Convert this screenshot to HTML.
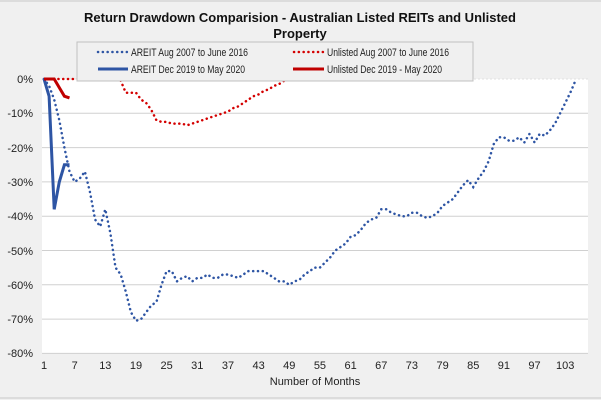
<!DOCTYPE html>
<html><head><meta charset="utf-8"><style>
body{margin:0;background:#f0f0f0;}
svg{display:block;font-family:"Liberation Sans Narrow","Liberation Sans",sans-serif;}
</style></head><body>
<svg width="601" height="400" viewBox="0 0 601 400" xmlns="http://www.w3.org/2000/svg">
<rect x="0" y="0" width="601" height="400" fill="#f0f0f0"/>
<line x1="0" y1="1" x2="601" y2="1" stroke="#c8c8c8"/>
<line x1="0" y1="398" x2="601" y2="398" stroke="#c8c8c8"/>
<rect x="42" y="79" width="546" height="274" fill="#ffffff"/>
<g stroke="#d0d0d0" stroke-width="1">
<line x1="42" y1="113.3" x2="588" y2="113.3"/><line x1="42" y1="147.6" x2="588" y2="147.6"/>
<line x1="42" y1="181.9" x2="588" y2="181.9"/><line x1="42" y1="216.2" x2="588" y2="216.2"/>
<line x1="42" y1="250.5" x2="588" y2="250.5"/><line x1="42" y1="284.8" x2="588" y2="284.8"/>
<line x1="42" y1="319.1" x2="588" y2="319.1"/><line x1="42" y1="353.4" x2="588" y2="353.4"/>
</g>
<line x1="42" y1="79" x2="588" y2="79" stroke="#e0e0e0" stroke-dasharray="2,2"/>
<g font-size="11" fill="#222" text-anchor="end">
<text x="33" y="83">0%</text><text x="33" y="117">-10%</text><text x="33" y="152">-20%</text>
<text x="33" y="186">-30%</text><text x="33" y="220">-40%</text><text x="33" y="255">-50%</text>
<text x="33" y="289">-60%</text><text x="33" y="323">-70%</text><text x="33" y="357">-80%</text>
</g>
<g font-size="11" fill="#222" text-anchor="middle" id="xl"></g>
<text x="315" y="385" font-size="11" text-anchor="middle" fill="#222">Number of Months</text>
<g id="series"></g>
<text x="300" y="22" font-size="13" font-weight="bold" text-anchor="middle" fill="#111" font-family="Liberation Sans, sans-serif">Return Drawdown Comparision - Australian Listed REITs and Unlisted</text>
<text x="300" y="38" font-size="13" font-weight="bold" text-anchor="middle" fill="#111" font-family="Liberation Sans, sans-serif">Property</text>
<rect x="77" y="42" width="396" height="39" fill="#f0f0f0" stroke="#c0c0c0"/>
<g font-size="11" fill="#222">
<line x1="98" y1="52" x2="127" y2="52" stroke="#2e55a4" stroke-width="2.5" stroke-linecap="round" stroke-dasharray="0.1,4.7"/>
<text x="131" y="56" textLength="117" lengthAdjust="spacingAndGlyphs">AREIT Aug 2007 to June 2016</text>
<line x1="98" y1="69" x2="128" y2="69" stroke="#2e55a4" stroke-width="3"/>
<text x="131" y="73" textLength="114" lengthAdjust="spacingAndGlyphs">AREIT Dec 2019 to May 2020</text>
<line x1="294" y1="52" x2="323" y2="52" stroke="#d40000" stroke-width="2.5" stroke-linecap="round" stroke-dasharray="0.1,4.7"/>
<text x="327" y="56" textLength="122" lengthAdjust="spacingAndGlyphs">Unlisted Aug 2007 to June 2016</text>
<line x1="293" y1="69" x2="324" y2="69" stroke="#c00000" stroke-width="3"/>
<text x="327" y="73" textLength="115" lengthAdjust="spacingAndGlyphs">Unlisted Dec 2019 - May 2020</text>
</g>
</svg>
<script>
var X=m=>44+(m-1)*5.11, Y=v=>79-v*3.43;
var xl=document.getElementById('xl'),s='';
for(var m=1;m<=103;m+=6)s+='<text x="'+X(m)+'" y="369">'+m+'</text>';
xl.innerHTML=s;
var areit=[0,-2,-6,-12,-20,-27,-30,-29,-27,-33,-41,-43,-38,-45,-55,-57,-62,-68,-70.5,-70,-68,-66,-65,-60,-56,-56,-59,-58,-57.5,-59,-58,-58,-57,-58,-58,-57,-57,-57.5,-58,-57,-56,-56,-56,-56,-57,-58,-59,-59,-60,-59,-58.5,-57,-56,-55,-55,-53.5,-52,-50,-49,-48,-46,-45.5,-44,-42,-41,-40.5,-38,-38,-39,-39.5,-40,-40,-39,-39,-40,-40.5,-40,-39,-37,-36,-35,-33,-31,-29.5,-30.5,-31.5,-29,-28,-27,-24,-20,-17,-17,-18,-18.5,-18,-17,-18.5,-16,-18.5,-18.5,-16,-16.5,-17,-15,-13,-10,-7,-4,-1,0.5];
var cut=areit.indexOf(-29.5);
areit=areit.slice(0,cut+1).concat([-31.5,-29,-27,-24,-19,-17,-17,-18,-18,-17,-18.5,-16,-18.5,-16,-16.5,-15,-13,-10,-7,-4,-0.5]);
var unl=[];for(var i=0;i<15;i++)unl.push(0);
unl=unl.concat([-0.5,-4,-4,-4,-6,-7,-9,-12,-12.5,-12.5,-13,-13,-13,-13.5,-13,-12.5,-12,-11.5,-11,-10.5,-10,-9.5,-8.5,-8,-7,-6,-5,-4.5,-3.5,-3,-2,-1.5,-0.5,0]);
function pts(a,sc){sc=sc||5.11;return a.map((v,i)=>(44+i*sc).toFixed(1)+','+Y(v).toFixed(1)).join(' ');}
var sA=Math.min(5.11,(581-44)/(areit.length-1));
document.getElementById('series').innerHTML=
'<polyline points="'+pts(unl)+'" fill="none" stroke="#d40000" stroke-width="2.5" stroke-linecap="round" stroke-dasharray="0.1,4.7"/>'+
'<polyline points="'+pts(areit,sA)+'" fill="none" stroke="#2e55a4" stroke-width="2.5" stroke-linecap="round" stroke-dasharray="0.1,4.7"/>'+
'<polyline points="'+pts([0,-5,-38,-30,-25,-25])+'" fill="none" stroke="#2e55a4" stroke-width="3"/>'+
'<polyline points="'+pts([0,0,0,-2.5,-5,-5.5])+'" fill="none" stroke="#c00000" stroke-width="3"/>';
</script>
</body></html>
